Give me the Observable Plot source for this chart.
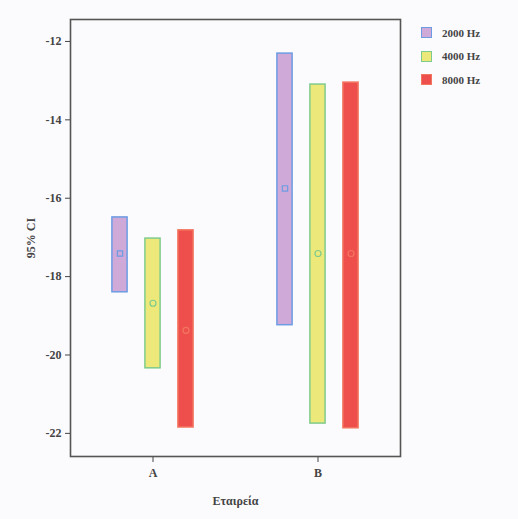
<!DOCTYPE html>
<html>
<head>
<meta charset="utf-8">
<script src="https://cdn.jsdelivr.net/npm/d3@7"></script>
<script src="https://cdn.jsdelivr.net/npm/@observablehq/plot@0.6"></script>
<style>
  html, body { margin: 0; padding: 0; background: #fbfbfd; }
  #wrap { position: relative; width: 518px; height: 519px; }
  #legend { position: absolute; left: 421px; top: 27px; font-family: "Liberation Serif", "DejaVu Serif", serif; font-size: 11px; font-weight: bold; color: #444; }
  .row { display: flex; align-items: center; height: 11px; margin-bottom: 12.5px; }
  .sw { width: 9px; height: 9px; margin-right: 10px; border: 1.5px solid; }
  svg g[aria-label$="label"] text { font-weight: bold; font-size: 12px; }
</style>
</head>
<body>
<div id="wrap"></div>
<script>
const groups = ["A", "B"];
const freqs = ["2000 Hz", "4000 Hz", "8000 Hz"];
// 95% CI lower bound, upper bound and mean per group (A, B)
const lo2000 = [-18.40, -19.24];
const hi2000 = [-16.49, -12.31];
const mean2000 = [-17.41, -15.75];
const lo4000 = [-20.34, -21.75];
const hi4000 = [-17.03, -13.10];
const mean4000 = [-18.68, -17.41];
const lo8000 = [-21.85, -21.87];
const hi8000 = [-16.82, -13.05];
const mean8000 = [-19.37, -17.41];
const yTicks = [-22, -20, -18, -16, -14, -12];

const fills = ["#cfa9d8", "#ece97a", "#ee4f4c"];
const strokes = ["#6d9ce3", "#7fcb8c", "#f27560"];

const series = [
  {lo: lo2000, hi: hi2000, mean: mean2000},
  {lo: lo4000, hi: hi4000, mean: mean4000},
  {lo: lo8000, hi: hi8000, mean: mean8000}
];
const table = [];
groups.forEach((g, i) => {
  freqs.forEach((f, j) => {
    table.push({group: g, freq: f, j, x: i + (j - 1) * 0.2,
      lo: series[j].lo[i], hi: series[j].hi[i], mean: series[j].mean[i]});
  });
});

const half = 0.046;
const marks = [Plot.frame({stroke: "#555", strokeWidth: 1.6})];
freqs.forEach((f, j) => {
  const data = table.filter(d => d.j === j);
  marks.push(Plot.rect(data, {
    x1: d => d.x - half, x2: d => d.x + half, y1: "lo", y2: "hi",
    fill: fills[j], stroke: strokes[j], strokeWidth: 1.5
  }));
  marks.push(Plot.dot(data, {
    x: "x", y: "mean", r: 3, symbol: j === 0 ? "square" : "circle",
    stroke: strokes[j], strokeWidth: 1.2, fill: "none"
  }));
});

const chart = Plot.plot({
  width: 518,
  height: 519,
  marginLeft: 70,
  marginRight: 118,
  marginTop: 19,
  marginBottom: 63,
  style: {background: "#fbfbfd", fontFamily: "Liberation Serif, DejaVu Serif, serif", fontSize: "11px", color: "#444"},
  x: {domain: [-0.5, 1.5], ticks: [0, 1], tickFormat: i => groups[i], tickSize: 6, tickPadding: 6,
      label: "Εταιρεία", labelAnchor: "center", labelOffset: 48, labelArrow: false},
  y: {domain: [-22.59, -11.44], ticks: yTicks, tickFormat: d => String(d), tickSize: 5, tickPadding: 4,
      label: "95% CI", labelAnchor: "center", labelOffset: 44, labelArrow: false},
  marks
});
chart.querySelectorAll("text, tspan").forEach(t => {
  if (t.childNodes.length === 1 && t.firstChild.nodeType === 3) {
    t.firstChild.nodeValue = t.firstChild.nodeValue.replace(/\s*[→↑←↓]\s*/g, "");
  }
});
document.getElementById("wrap").appendChild(chart);

const legend = document.createElement("div");
legend.id = "legend";
freqs.forEach((f, j) => {
  const row = document.createElement("div");
  row.className = "row";
  const sw = document.createElement("div");
  sw.className = "sw";
  sw.style.background = fills[j];
  sw.style.borderColor = strokes[j];
  const t = document.createElement("span");
  t.textContent = f;
  row.appendChild(sw);
  row.appendChild(t);
  legend.appendChild(row);
});
document.getElementById("wrap").appendChild(legend);
</script>
</body>
</html>
